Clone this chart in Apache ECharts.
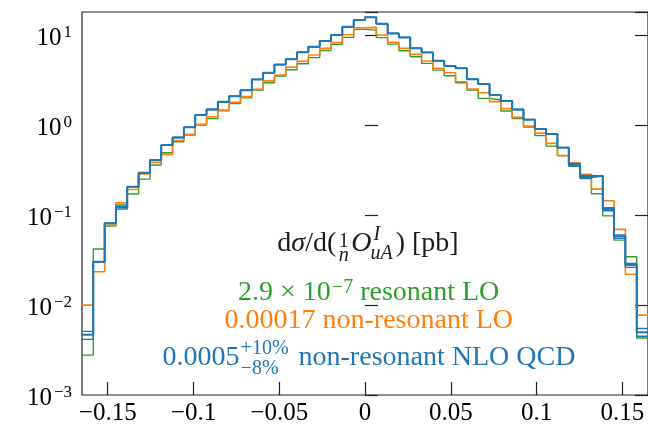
<!DOCTYPE html>
<html><head><meta charset="utf-8">
<script src="https://cdn.jsdelivr.net/npm/echarts@6/dist/echarts.min.js"></script>
<style>html,body{margin:0;padding:0;background:#fff}#c{width:648px;height:426px}</style>
</head><body><div id="c"></div>
<script>
// bin edges of the histogram (50 bins)
const binEdges = [-0.165,-0.1584,-0.1518,-0.1452,-0.1386,-0.132,-0.1254,-0.1188,-0.1122,-0.1056,
  -0.099,-0.0924,-0.0858,-0.0792,-0.0726,-0.066,-0.0594,-0.0528,-0.0462,-0.0396,
  -0.033,-0.0264,-0.0198,-0.0132,-0.0066,0,0.0066,0.0132,0.0198,0.0264,
  0.033,0.0396,0.0462,0.0528,0.0594,0.066,0.0726,0.0792,0.0858,0.0924,
  0.099,0.1056,0.1122,0.1188,0.1254,0.132,0.1386,0.1452,0.1518,0.1584,0.165];

const greenLO = [0.00278,0.0420,0.0757,0.130,0.172,0.252,0.361,0.495,0.655,0.778,
  1.005,1.19,1.45,1.75,2.02,2.46,2.97,3.53,4.14,4.83,
  5.66,6.78,7.96,9.50,11.66,11.45,9.45,8.00,6.74,5.78,
  4.88,4.11,3.55,2.97,2.46,1.99,1.91,1.44,1.19,0.955,
  0.768,0.587,0.460,0.349,0.269,0.173,0.0982,0.0528,0.0345,0.0043];

const orangeLO = [0.0100,0.0235,0.0776,0.137,0.193,0.287,0.387,0.475,0.676,0.792,
  1.023,1.243,1.476,1.80,2.09,2.51,3.12,3.62,4.44,5.14,
  6.04,7.17,8.32,10.15,12.15,12.27,10.08,8.36,7.17,6.15,
  5.18,4.30,3.84,3.05,2.53,2.30,1.835,1.534,1.224,0.980,
  0.819,0.629,0.460,0.383,0.285,0.195,0.145,0.0695,0.0220,0.00774];

const blueNLO = [0.00468,0.0303,0.0811,0.1215,0.207,0.296,0.410,0.602,0.730,0.948,
  1.30,1.50,1.83,2.11,2.46,3.24,3.84,4.73,5.42,6.49,
  7.47,8.68,10.08,12.46,14.80,15.86,13.46,10.52,9.50,7.17,
  6.47,5.22,4.56,4.30,3.26,2.87,2.17,1.86,1.50,1.157,
  0.912,0.798,0.565,0.364,0.264,0.274,0.117,0.0578,0.0279,0.0050];

const blueNLOup = [0.0051,0.0303,0.0811,0.1247,0.207,0.296,0.410,0.602,0.730,0.948,
  1.30,1.50,1.83,2.11,2.46,3.24,3.84,4.73,5.42,6.49,
  7.47,8.68,10.08,12.46,14.80,15.86,13.46,10.52,9.50,7.17,
  6.47,5.22,4.56,4.30,3.26,2.87,2.17,1.86,1.50,1.157,
  0.912,0.798,0.565,0.377,0.276,0.274,0.1215,0.0601,0.0291,0.0055];

const blueNLOdown = [0.00416,0.0303,0.0811,0.1169,0.207,0.296,0.410,0.602,0.730,0.948,
  1.30,1.50,1.83,2.11,2.46,3.24,3.84,4.73,5.42,6.49,
  7.47,8.68,10.08,12.46,14.80,15.86,13.46,10.52,9.50,7.17,
  6.47,5.22,4.56,4.30,3.26,2.87,2.17,1.86,1.50,1.157,
  0.912,0.798,0.565,0.352,0.255,0.274,0.112,0.0552,0.0263,0.0045];

const xTicks = [-0.15,-0.1,-0.05,0,0.05,0.1,0.15];
const yMin = 0.001, yMax = 18.2;

const C_BLUE = '#1f77b4', C_ORANGE = '#ff7f0e', C_GREEN = '#2ca02c';
const FONT = '"Liberation Serif", "Times New Roman", serif';

function stepData(vals){
  return binEdges.map((e,i)=>[e, vals[Math.min(i, vals.length-1)]]);
}
function hist(name, vals, color, w){
  return {type:'line', name, step:'end', data: stepData(vals), showSymbol:false, symbol:'none',
    lineStyle:{color, width:w}, itemStyle:{color}, animation:false, silent:true};
}

// ---- annotation layout helpers
const mctx = document.createElement('canvas').getContext('2d');
function fontStr(fs, it){ return (it?'italic ':'') + fs + 'px ' + FONT; }
function tw(t, fs, it){ mctx.font = fontStr(fs, it); return mctx.measureText(t).width; }
function T(t, x, yBase, fs, color, it){
  return {type:'text', x: x, y: yBase - 0.3375*fs, silent:true,
    style:{text:t, x:0, y:0, font: fontStr(fs,it), fill:color, align:'left', verticalAlign:'middle'}};
}
function layoutLine(pieces, cx, yBase, color){
  const widths = pieces.map(p => p.stack ? Math.max(...p.stack.map(s => tw(s.t,s.fs,s.it) + (s.dx||0))) + (p.pad||0) : tw(p.t,p.fs,p.it) + (p.pad||0));
  const W = widths.reduce((a,b)=>a+b,0);
  let x = cx - W/2; const els = [];
  pieces.forEach((p,i)=>{
    if (p.stack){
      p.stack.forEach(s=>{
        const sw = tw(s.t,s.fs,s.it);
        const off = p.center ? (widths[i]-sw)/2 : (s.dx||0);
        els.push(T(s.t, x+off, yBase+(s.dy||0), s.fs, color, s.it));
      });
    } else {
      els.push(T(p.t, x + (p.lpad||0), yBase+(p.dy||0), p.fs, color, p.it));
    }
    x += widths[i];
  });
  return els;
}
const BIG = 28, SM = 20;
let graphics = [];
graphics = graphics.concat(layoutLine([
  {t:'d', fs:BIG}, {t:'σ', fs:BIG, it:true}, {t:'/d(', fs:BIG},
  {stack:[{t:'1', fs:SM, dy:-5}, {t:'n', fs:SM, it:true, dy:9.4}], center:true, pad:5},
  {t:'O', fs:BIG, it:true},
  {stack:[{t:'I', fs:SM, it:true, dy:-11.6, dx:2}, {t:'uA', fs:SM, it:true, dy:6.7, dx:-1}], pad:3},
  {t:') [pb]', fs:BIG}
], 368, 253.3, '#1a1a1a'));
graphics = graphics.concat(layoutLine([
  {t:'2.9 × 10', fs:BIG}, {t:'−7', fs:SM, dy:-7.5, pad:1, lpad:1}, {t:' resonant LO', fs:BIG}
], 368.7, 301.7, C_GREEN));
graphics = graphics.concat(layoutLine([
  {t:'0.00017 non-resonant LO', fs:BIG}
], 368.8, 330, C_ORANGE));
graphics = graphics.concat(layoutLine([
  {t:'0.0005', fs:BIG},
  {stack:[{t:'+10%', fs:SM, dy:-11.7, dx:1}, {t:'−8%', fs:SM, dy:8.3, dx:1}], pad:3},
  {t:' non-resonant NLO QCD', fs:BIG}
], 369, 366.7, C_BLUE));

function yFmt(v){
  const l = Math.log10(v), r = Math.round(l);
  if (Math.abs(l - r) > 1e-6) return '';
  return '{b|10}{s|' + (r < 0 ? '−' + (-r) : String(r)) + '}';
}
function xFmt(v){
  if (Math.abs(v) < 1e-12) return '0';
  return (v < 0 ? '−' : '') + String(Math.abs(v));
}
const tickStyle = {color:'#222', width:1.2};

const chart = echarts.init(document.getElementById('c'), null, {renderer:'canvas', width:648, height:426});
chart.setOption({
  animation:false,
  backgroundColor:'#fff',
  grid:{left:82, top:12, right:-10, bottom:31, show:true, borderColor:'#222', borderWidth:1.2, backgroundColor:'transparent'},
  xAxis:{type:'value', min:-0.165, max:0.165,
    axisLine:{show:false},
    axisTick:{show:true, inside:true, length:13, lineStyle:tickStyle, customValues:xTicks},
    axisLabel:{customValues:xTicks, formatter:xFmt, fontFamily:FONT, fontSize:25, lineHeight:25, color:'#000', margin:6},
    splitLine:{show:false}},
  yAxis:[
    {type:'log', logBase:10, min:yMin, max:yMax, position:'left',
     axisLine:{show:false},
     axisTick:{show:true, inside:true, length:13, lineStyle:tickStyle},
     minorTick:{show:false},
     axisLabel:{formatter:yFmt, margin:10, color:'#000', fontFamily:FONT,
       rich:{b:{fontFamily:FONT, fontSize:25, lineHeight:25, color:'#000', padding:[7,0,0,0]},
             s:{fontFamily:FONT, fontSize:17, lineHeight:17, color:'#000', padding:[0,0,5,2]}}},
     splitLine:{show:false}},
    {type:'log', logBase:10, min:yMin, max:yMax, position:'right',
     axisLine:{show:false},
     axisTick:{show:true, inside:true, length:13, lineStyle:tickStyle},
     axisLabel:{show:false}, splitLine:{show:false}}
  ],
  series:[
    hist('2.9e-7 resonant LO', greenLO, C_GREEN, 1.4),
    hist('0.00017 non-resonant LO', orangeLO, C_ORANGE, 1.6),
    hist('NLO down', blueNLOdown, C_BLUE, 1.4),
    hist('NLO up', blueNLOup, C_BLUE, 1.4),
    hist('0.0005 non-resonant NLO QCD', blueNLO, C_BLUE, 2)
  ],
  graphic: graphics
});
</script></body></html>
